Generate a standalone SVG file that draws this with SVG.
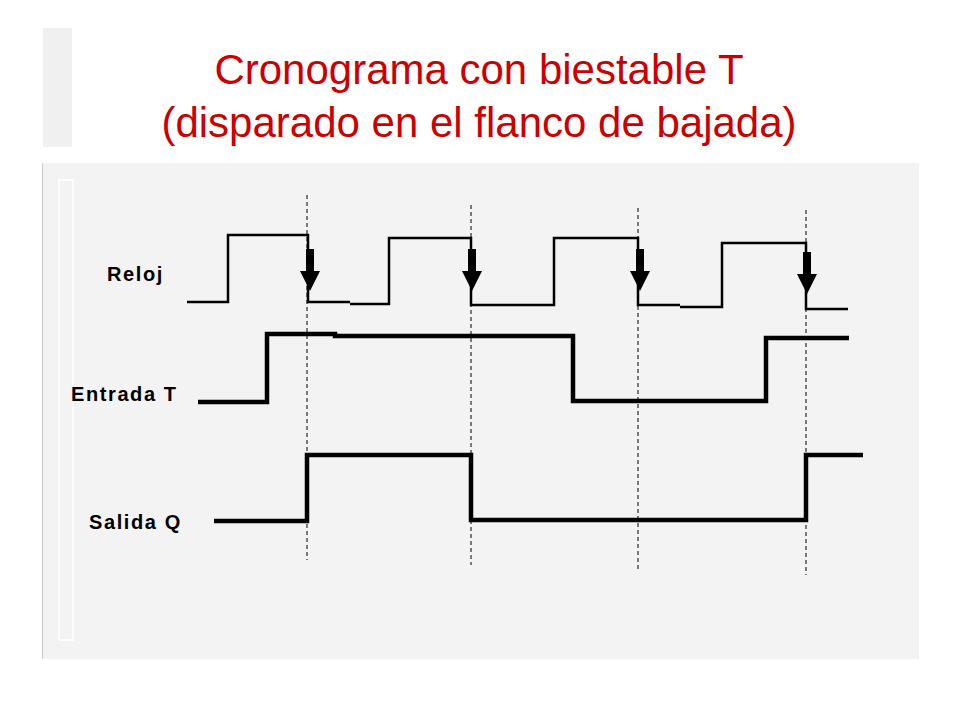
<svg xmlns="http://www.w3.org/2000/svg" width="960" height="720" viewBox="0 0 960 720">
<style>
.t{font-family:"Liberation Sans",Arial,sans-serif;fill:#cc0000;font-size:42px;text-anchor:middle}
.l{font-family:"Liberation Sans",Arial,sans-serif;font-weight:bold;font-size:20px;letter-spacing:1.6px;fill:#000}
.clk{fill:none;stroke:#000;stroke-width:2.5}
.sig{fill:none;stroke:#000;stroke-width:4.5}
.d{stroke:#000;stroke-width:1;stroke-dasharray:4,3}
</style>
<defs><g id="arr"><rect x="-4" y="0" width="8" height="24"/><polygon points="-10,22 10,22 0,42"/></g></defs>
<rect width="960" height="720" fill="#fff"/>
<rect x="43" y="28" width="29" height="119" fill="#f0f0f0"/>
<rect x="42" y="163" width="877" height="496" fill="#f3f3f3"/>
<line x1="42.5" y1="163" x2="42.5" y2="659" stroke="#c8c8c8"/>
<rect x="59" y="180" width="14" height="460" fill="none" stroke="#fff" stroke-width="1.5"/>
<g id="title"><text class="t" x="479" y="84">Cronograma con biestable T</text><text class="t" x="479" y="137">(disparado en el flanco de bajada)</text></g>
<g id="labels"><text class="l" x="107" y="281">Reloj</text><text class="l" x="71" y="401">Entrada T</text><text class="l" x="89" y="529">Salida Q</text></g>
<g id="connectors">
<line class="d" x1="307" y1="195" x2="307" y2="560"/>
<line class="d" x1="471" y1="205" x2="471" y2="565"/>
<line class="d" x1="638" y1="208" x2="638" y2="570"/>
<line class="d" x1="806" y1="210" x2="806" y2="575"/>
</g>
<g id="reloj">
<polyline class="clk" points="187,302 228,302 228,235 308,235 308,302 350,302"/>
<polyline class="clk" points="350,304 389,304 389,238 471,238 471,305 548,305"/>
<polyline class="clk" points="548,305 554,305 554,238 638,238 638,305 680,305"/>
<polyline class="clk" points="680,307 722,307 722,243 806,243 806,309 848,309"/>
<use href="#arr" x="310" y="249"/><use href="#arr" x="472" y="249"/><use href="#arr" x="640" y="249"/><use href="#arr" x="807" y="252"/>
</g>
<g id="entrada"><polyline class="sig" points="198,402 267,402 267,334 335,334 335,336 573,336 573,401 766,401 766,338 849,338"/></g>
<g id="salida"><polyline class="sig" points="214,521 307,521 307,455 471,455 471,520 806,520 806,455 863,455"/></g>
</svg>
